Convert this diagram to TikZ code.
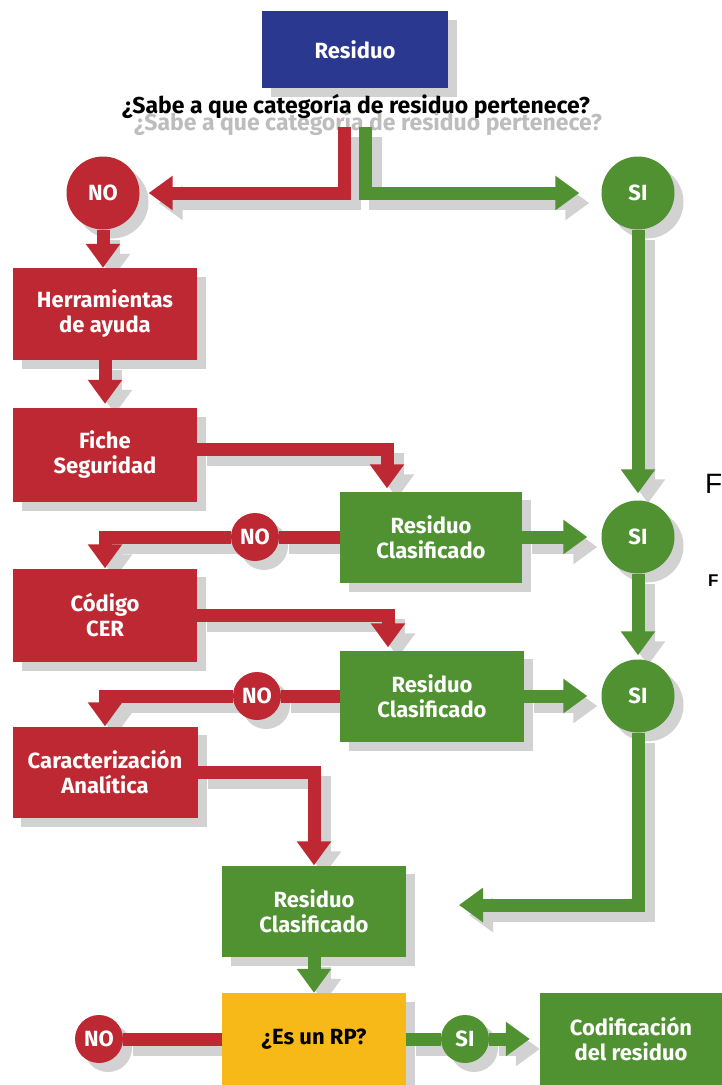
\documentclass[tikz,border=0pt]{standalone}
\usepackage{fontspec}
\setmainfont{Fira Sans}
\newfontfamily\straysans{Liberation Sans}
\usetikzlibrary{arrows.meta}

\definecolor{fcred}{HTML}{BE2832}
\definecolor{fcgreen}{HTML}{509132}
\definecolor{fcblue}{HTML}{2A3890}
\definecolor{fcyellow}{HTML}{F7B918}
\definecolor{shgrey}{HTML}{D2D2D2}
\definecolor{txtgrey}{HTML}{BDBDBD}

\pgfdeclarelayer{bg}
\pgfdeclarelayer{mid}
\pgfsetlayers{bg,mid,main}

% a connector: grey offset copy underneath, coloured line above it
\newcommand\flowlink[2]{%
  \begin{pgfonlayer}{bg}\draw[#1,draw=shgrey,transform canvas={shift={(10pt,-10pt)}}] #2;\end{pgfonlayer}%
  \begin{pgfonlayer}{mid}\draw[#1] #2;\end{pgfonlayer}}

\begin{document}
\begin{tikzpicture}[x=1pt,y=-1pt,
  lbl/.style={font=\fontsize{22}{25}\selectfont\bfseries, text=white, align=center, inner sep=0pt},
  box/.style={lbl, rectangle, minimum width=184pt, minimum height=92pt},
  redbox/.style={box, fill=fcred},
  greenbox/.style={box, fill=fcgreen},
  bigdot/.style={lbl, circle, minimum size=73pt},
  smalldot/.style={lbl, circle, minimum size=48pt},
  redline/.style={draw=fcred, line width=13pt},
  greenline/.style={draw=fcgreen, line width=13pt},
  arr/.style={-{Triangle[length=24pt,width=33pt]}},
  question/.style={lbl, font=\fontsize{23}{26}\selectfont\bfseries}]

\useasboundingbox (0,0) rectangle (722,1085);
\begin{pgfonlayer}{bg}
\fill[white] (0,0) rectangle (722,1085);
\end{pgfonlayer}

% boxes and decision dots
\node[box, fill=fcblue, minimum width=186pt, minimum height=77pt] (res) at (355,49.5) {Residuo};
\node[question, text=black] (q) at (356,106) {¿Sabe a que categoría de residuo pertenece?};
\begin{pgfonlayer}{bg}
\node[question, text=txtgrey] (qshadow) at (368,123) {¿Sabe a que categoría de residuo pertenece?};
\end{pgfonlayer}

\node[bigdot, fill=fcred] (no1) at (103,193) {NO};
\node[bigdot, fill=fcgreen] (si1) at (638,193) {SI};
\node[redbox] (herr) at (105,314) {Herramientas\\de ayuda};
\node[redbox, minimum height=94pt] (ficha) at (105,455) {Fiche\\Seguridad};
\node[greenbox, minimum width=182pt, minimum height=91pt] (cl1) at (431,537) {Residuo\\Clasificado};
\node[bigdot, fill=fcgreen] (si2) at (638,537) {SI};
\node[smalldot, fill=fcred] (no2) at (255,537) {NO};
\node[redbox, minimum height=93pt] (cod) at (105,615) {Código\\CER};
\node[greenbox, minimum height=91pt] (cl2) at (432,696) {Residuo\\Clasificado};
\node[smalldot, fill=fcred] (no3) at (257,696) {NO};
\node[bigdot, fill=fcgreen] (si3) at (638,696) {SI};
\node[redbox, minimum width=185pt, minimum height=91pt] (car) at (105,772) {Caracterización\\Analítica};
\node[greenbox, minimum height=91pt] (cl3) at (314,911) {Residuo\\Clasificado};
\node[box, fill=fcyellow, text=black] (rp) at (314,1039) {¿Es un RP?};
\node[smalldot, fill=fcred] (no4) at (99,1039) {NO};
\node[smalldot, fill=fcgreen] (si4) at (465,1039) {SI};
\node[greenbox, minimum width=182pt] (codif) at (631,1039) {Codificación\\del residuo};

% partial labels at the right border
\node[inner sep=0pt, anchor=west, font=\straysans\fontsize{28}{30}\selectfont] (fa) at (705,484) {F};
\node[inner sep=0pt, anchor=west, font=\straysans\bfseries\fontsize{17}{19}\selectfont] (fb) at (708,581) {F};

% shadows of boxes and dots
\begin{pgfonlayer}{bg}
\foreach \n in {res,herr,ficha,cl1,cod,cl2,car,cl3,rp,codif}
  \fill[shgrey] ([shift={(9pt,-9pt)}]\n.north west) rectangle ([shift={(9pt,-9pt)}]\n.south east);
\foreach \n/\r in {no1/36.5,si1/36.5,si2/36.5,si3/36.5,no2/24,no3/24,no4/24,si4/24}
  \fill[shgrey] ([shift={(9pt,-9pt)}]\n.center) circle[radius=\r pt];
\end{pgfonlayer}

% free ends of connectors
\coordinate (qr) at (344,127);
\coordinate (qg) at (365,127);
\coordinate (loopend) at (459,905);

% connectors
\flowlink{redline,arr,shorten >=9pt}{(qr) |- (no1)}
\flowlink{greenline,arr,shorten >=22pt}{(qg) |- (si1)}
\flowlink{redline,arr}{(no1.south) -- (no1.south |- herr.north)}
\flowlink{redline,arr,shorten >=4pt}{(herr.south) -- (ficha.north)}
\flowlink{redline,arr,shorten >=3pt}{([yshift=6pt]ficha.east) -| ([xshift=-44pt]cl1.north)}
\flowlink{greenline,arr,shorten >=7pt}{(si1.south) -- (si2.north)}
\flowlink{greenline,arr,shorten >=14pt}{(cl1.east) -- (si2.west)}
\flowlink{redline,arr}{(cl1.west) -- (no2) -| (cod.north)}
\flowlink{greenline,arr,shorten >=4pt}{(si2.south) -- (si3.north)}
\flowlink{greenline,arr,shorten >=14pt}{(cl2.east) -- (si3.west)}
\flowlink{redline,arr,shorten >=3pt}{(cod.east) -| ([xshift=-44pt]cl2.north)}
\flowlink{redline,arr}{(cl2.west) -- (no3) -| (car.north)}
\flowlink{redline,arr}{(car.east) -| (cl3.north)}
\flowlink{greenline,arr}{(si3.south) |- (loopend)}
\flowlink{greenline,arr}{(cl3.south) -- (rp.north)}
\flowlink{redline}{(rp.west) -- (no4)}
\flowlink{greenline,arr,shorten >=10pt}{(rp.east) -- (si4) -- (codif.west)}

\end{tikzpicture}
\end{document}
